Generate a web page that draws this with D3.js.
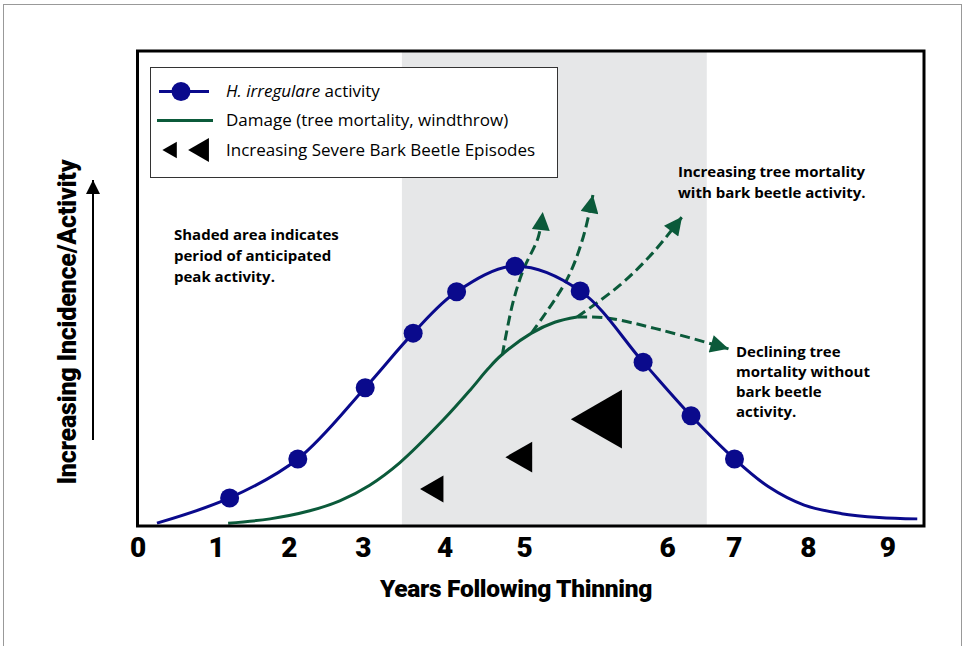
<!DOCTYPE html>
<html>
<head>
<meta charset="utf-8">
<script src="https://cdn.jsdelivr.net/npm/d3@7"></script>
<style>
  body { margin: 0; background: #fff; }
  svg { display: block; }
</style>
</head>
<body>
<svg id="chart"></svg>
<script>
// H. irregulare activity curve (x = years-position, y = relative activity 0-100)
const activityX = [0.26, 1.23, 2.14, 3.04, 3.68, 4.26, 5.04, 5.91, 6.75, 7.39, 7.97, 8.42, 8.90, 9.40, 9.90, 10.41];
const activityY = [0.6, 5.9, 14.1, 29.1, 40.6, 49.3, 54.7, 49.5, 34.5, 23.2, 14.1, 8.3, 4.4, 2.6, 1.8, 1.5];
const activityDot = [false, true, true, true, true, true, true, true, true, true, true, false, false, false, false, false];

// Damage curve (tree mortality, windthrow)
const damageX = [1.21, 1.77, 2.30, 2.70, 3.10, 3.50, 4.08, 4.44, 4.68, 4.86, 5.26, 5.57, 5.87];
const damageY = [0.6, 1.5, 3.2, 5.3, 8.6, 13.3, 22.3, 28.6, 33.1, 36.0, 40.6, 42.9, 44.0];

// projected damage paths (dashed arrows)
const projections = [
  [[4.87, 36.0], [5.01, 46.9], [5.15, 53.9], [5.35, 60.8], [5.41, 66.1]],
  [[5.26, 40.6], [5.73, 51.8], [5.95, 60.8], [6.08, 69.7]],
  [[5.87, 44.0], [6.44, 50.7], [6.88, 57.5], [7.27, 65.1]],
  [[5.87, 44.0], [6.27, 43.8], [6.98, 41.3], [7.89, 37.3]]
];

// severe bark beetle episodes (triangle markers, size = symbol area)
const beetleX = [3.98, 5.15, 6.24];
const beetleY = [7.8, 14.5, 22.5];
const beetleSize = [315, 416, 1507];

// shaded period of anticipated peak activity
const peakStart = 3.53, peakEnd = 7.6;

// x tick positions and labels (labels are spaced unevenly in the original)
const xTickAt = [0, 1.05, 2.02, 3.01, 4.10, 5.16, 7.07, 7.96, 8.95, 10.01];
const xTickLabels = ["0", "1", "2", "3", "4", "5", "6", "7", "8", "9"];

const legendLabels = ["activity", "Damage (tree mortality, windthrow)", "Increasing Severe Bark Beetle Episodes"];

const width = 964, height = 646;
const blue = "#0a0a8c", green = "#0b5a3a";
const boldFont = "Roboto, sans-serif";
const textFont = "'Open Sans', sans-serif";

const svg = d3.select("#chart").attr("width", width).attr("height", height);

const x = d3.scaleLinear().domain([0, 10.5]).range([137.5, 924]);
const y = d3.scaleLinear().domain([0, 100]).range([526, 51]);

// outer frame
svg.append("rect")
  .attr("x", 3.5).attr("y", 4.5).attr("width", 958).attr("height", 700)
  .attr("fill", "none").attr("stroke", "#999").attr("stroke-width", 1);

// arrowhead marker
const defs = svg.append("defs");
defs.append("marker")
  .attr("id", "head")
  .attr("markerUnits", "userSpaceOnUse")
  .attr("viewBox", "0 0 10 10")
  .attr("refX", 10).attr("refY", 5)
  .attr("markerWidth", 20).attr("markerHeight", 18)
  .attr("orient", "auto")
  .append("path").attr("d", "M0,0 L10,5 L0,10 Z").attr("fill", green);

// shaded period
svg.append("rect")
  .attr("x", x(peakStart)).attr("y", y(100))
  .attr("width", x(peakEnd) - x(peakStart)).attr("height", y(0) - y(100))
  .attr("fill", "#e6e7e8");

// beetle triangles
svg.append("g").selectAll("path")
  .data(beetleX)
  .join("path")
  .attr("d", (d, i) => d3.symbol(d3.symbolTriangle, beetleSize[i])())
  .attr("transform", (d, i) => `translate(${x(d)},${y(beetleY[i])}) rotate(-90)`)
  .attr("fill", "#000");

// damage curve
const line = d3.line().x(d => x(d[0])).y(d => y(d[1])).curve(d3.curveCatmullRom.alpha(0.5));
svg.append("path")
  .datum(damageX.map((d, i) => [d, damageY[i]]))
  .attr("d", line)
  .attr("fill", "none").attr("stroke", green).attr("stroke-width", 3);

// projections
svg.append("g").selectAll("path")
  .data(projections)
  .join("path")
  .attr("d", line)
  .attr("fill", "none").attr("stroke", green).attr("stroke-width", 3)
  .attr("stroke-dasharray", "10,5")
  .attr("marker-end", "url(#head)");

// activity curve
const act = activityX.map((d, i) => [d, activityY[i], activityDot[i]]);
svg.append("path")
  .datum(act)
  .attr("d", line)
  .attr("fill", "none").attr("stroke", blue).attr("stroke-width", 3);
svg.append("g").selectAll("circle")
  .data(act.filter(d => d[2]))
  .join("circle")
  .attr("cx", d => x(d[0])).attr("cy", d => y(d[1])).attr("r", 9.5)
  .attr("fill", blue);

// plot frame
svg.append("rect")
  .attr("x", x(0)).attr("y", y(100))
  .attr("width", x(10.5) - x(0)).attr("height", y(0) - y(100))
  .attr("fill", "none").attr("stroke", "#000").attr("stroke-width", 3);

// x axis
const xAxis = svg.append("g")
  .attr("transform", `translate(0,${y(0)})`)
  .call(d3.axisBottom(x).tickValues(xTickAt).tickFormat((d, i) => xTickLabels[i]).tickSize(0));
xAxis.select(".domain").remove();
xAxis.selectAll("text")
  .attr("y", 31).attr("dy", 0)
  .attr("font-family", boldFont).attr("font-weight", 900).attr("font-size", 28)
  .attr("fill", "#000");

svg.append("text")
  .attr("x", 516).attr("y", 597)
  .attr("text-anchor", "middle")
  .attr("font-family", boldFont).attr("font-weight", 900).attr("font-size", 24.5)
  .attr("letter-spacing", -0.3)
  .text("Years Following Thinning");

// y title and arrow
svg.append("text")
  .attr("transform", "translate(67,322) rotate(-90)")
  .attr("text-anchor", "middle").attr("dy", "0.35em")
  .attr("font-family", boldFont).attr("font-weight", 900).attr("font-size", 25)
  .attr("letter-spacing", -0.2)
  .text("Increasing Incidence/Activity");
defs.append("marker")
  .attr("id", "headBlack")
  .attr("markerUnits", "userSpaceOnUse")
  .attr("viewBox", "0 0 10 10")
  .attr("refX", 10).attr("refY", 5)
  .attr("markerWidth", 18).attr("markerHeight", 14)
  .attr("orient", "auto")
  .append("path").attr("d", "M0,0 L10,5 L0,10 Z").attr("fill", "#000");
svg.append("line")
  .attr("x1", 93).attr("y1", 440).attr("x2", 93).attr("y2", 180)
  .attr("stroke", "#000").attr("stroke-width", 2)
  .attr("marker-end", "url(#headBlack)");

// legend
const legend = svg.append("g");
legend.append("rect")
  .attr("x", 150.5).attr("y", 67.5).attr("width", 407).attr("height", 110)
  .attr("fill", "#fff").attr("stroke", "#333").attr("stroke-width", 1);
const rowY = [91.5, 120.5, 150];
legend.append("line").attr("x1", 159).attr("x2", 209).attr("y1", rowY[0]).attr("y2", rowY[0])
  .attr("stroke", blue).attr("stroke-width", 3);
legend.append("circle").attr("cx", 181).attr("cy", rowY[0]).attr("r", 9.5).attr("fill", blue);
legend.append("line").attr("x1", 157).attr("x2", 213).attr("y1", rowY[1]).attr("y2", rowY[1])
  .attr("stroke", green).attr("stroke-width", 3);
legend.append("path").attr("d", d3.symbol(d3.symbolTriangle, 120)())
  .attr("transform", `translate(172,${rowY[2]}) rotate(-90)`);
legend.append("path").attr("d", d3.symbol(d3.symbolTriangle, 250)())
  .attr("transform", `translate(202,${rowY[2]}) rotate(-90)`);
legend.selectAll("text.lab")
  .data(legendLabels)
  .join("text")
  .attr("class", "lab")
  .attr("x", 226).attr("y", (d, i) => rowY[i]).attr("dy", "0.35em")
  .attr("font-family", textFont).attr("font-size", 17)
  .each(function (d, i) {
    const t = d3.select(this);
    if (i === 0) {
      t.append("tspan").attr("font-style", "italic").text("H. irregulare");
      t.append("tspan").text(" " + d);
    } else {
      t.text(d);
    }
  });

// annotations
function note(lines, x0, y0, lh) {
  svg.append("text")
    .attr("font-family", textFont).attr("font-weight", "bold").attr("font-size", 15)
    .selectAll("tspan")
    .data(lines)
    .join("tspan")
    .attr("x", x0).attr("y", (d, i) => y0 + i * lh)
    .text(d => d);
}
note(["Shaded area indicates", "period of anticipated", "peak activity."], 174, 240, 21);
note(["Increasing tree mortality", "with bark beetle activity."], 678, 177, 21);
note(["Declining tree", "mortality without", "bark beetle", "activity."], 736, 357, 20);
</script>
</body>
</html>
